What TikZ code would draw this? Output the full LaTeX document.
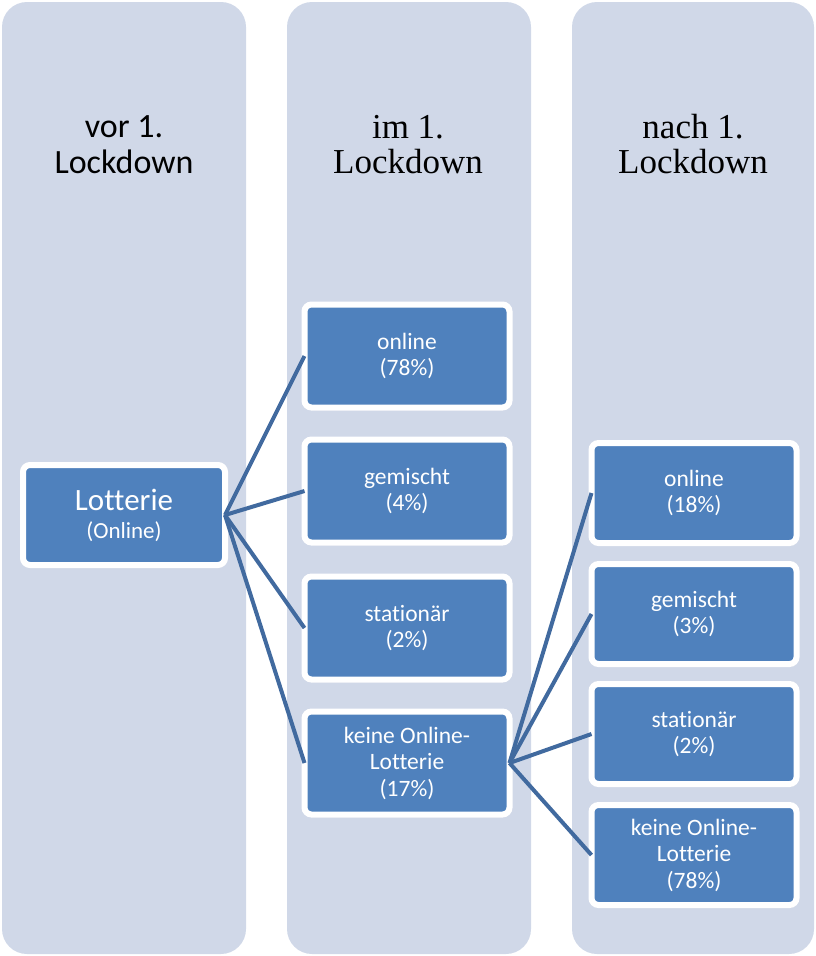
\documentclass[tikz,border=0pt]{standalone}
\usepackage{fontspec}
\setmainfont{Carlito}[Ligatures=NoCommon]
\newfontfamily\timesfont{Liberation Serif}
\usetikzlibrary{shadows}
\definecolor{colbg}{HTML}{D0D8E8}
\definecolor{boxblue}{HTML}{4F81BD}
\definecolor{linkblue}{HTML}{416A9F}
\begin{document}
\begin{tikzpicture}[x=1pt,y=-1pt,
  column/.style={fill=colbg, draw=none, rounded corners=25pt},
  box/.style={fill=boxblue, draw=white, line width=6pt, rounded corners=7pt,
    minimum width=205pt, minimum height=103pt, inner sep=0pt, outer sep=0pt,
    text=white, align=center, font=\fontsize{23.5}{26.5}\selectfont,
    drop shadow={opacity=0.3, shadow xshift=1pt, shadow yshift=-2.5pt}},
  boxc/.style={box, minimum height=100pt},
  link/.style={draw=linkblue, line width=4pt},
  sanstitle/.style={anchor=base, inner sep=0pt, font=\fontsize{34}{36}\selectfont},
  seriftitle/.style={anchor=base, inner sep=0pt, font=\timesfont\fontsize{35}{35}\selectfont}]
\useasboundingbox (0,0) rectangle (815,956);
% columns
\path[column] (2,2) rectangle (246,954);
\path[column] (287,2) rectangle (531,954);
\path[column] (572,2) rectangle (814,954);
% titles
\node[sanstitle] (t1a) at (124,137) {vor 1.};
\node[sanstitle] (t1b) at (124,173) {Lockdown};
\node[seriftitle] (t2a) at (408,138) {im 1.};
\node[seriftitle] (t2b) at (408,173) {Lockdown};
\node[seriftitle] (t3a) at (693,138) {nach 1.};
\node[seriftitle] (t3b) at (693,173) {Lockdown};
% boxes
\node[box, minimum width=202pt, minimum height=100pt, font=\fontsize{23}{28}\selectfont] (lot) at (124,515)
  {{\fontsize{31}{28}\selectfont Lotterie}\\(Online)};
\node[box] (a1) at (407,356) {online\\(78\%)};
\node[box] (a2) at (407,491) {gemischt\\(4\%)};
\node[box] (a3) at (407,628) {stationär\\(2\%)};
\node[box] (a4) at (407,763) {keine Online-\\Lotterie\\(17\%)};
\node[boxc] (b1) at (694,493) {online\\(18\%)};
\node[boxc] (b2) at (694,614) {gemischt\\(3\%)};
\node[boxc] (b3) at (694,734) {stationär\\(2\%)};
\node[boxc] (b4) at (694,855) {keine Online-\\Lotterie\\(78\%)};
% connectors
\draw[link] (lot.east) -- (a1.west);
\draw[link] (lot.east) -- (a2.west);
\draw[link] (lot.east) -- (a3.west);
\draw[link] (lot.east) -- (a4.west);
\draw[link] (a4.east) -- (b1.west);
\draw[link] (a4.east) -- (b2.west);
\draw[link] (a4.east) -- (b3.west);
\draw[link] (a4.east) -- (b4.west);
\end{tikzpicture}
\end{document}
